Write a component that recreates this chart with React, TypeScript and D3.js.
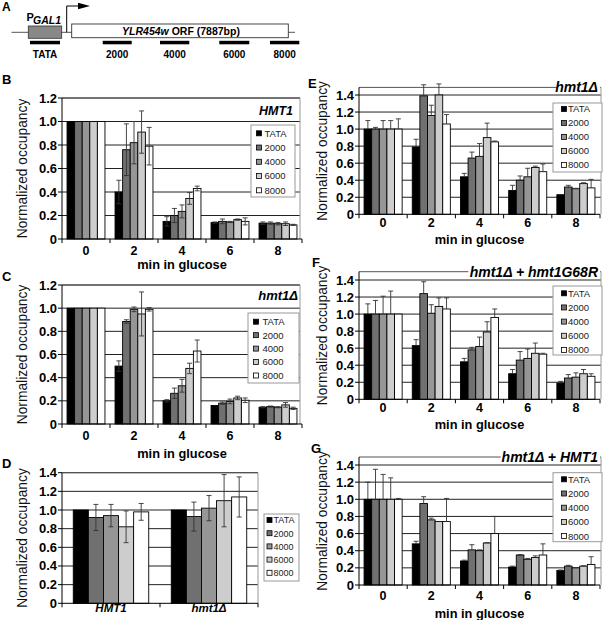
import React from 'react';
import * as d3 from 'd3';

const FONT = "'Liberation Sans', Arial, Helvetica, sans-serif";

const series = ['TATA', '2000', '4000', '6000', '8000'];
const seriesColors = ['#000000', '#707070', '#969696', '#cdcdcd', '#ffffff'];
const timeCats = ['0', '2', '4', '6', '8'];
const strainCats = ['HMT1', 'hmt1Δ'];

// Panel A probe labels
const probeLabels = ['TATA', '2000', '4000', '6000', '8000'];

// Panel B (HMT1) values per time point, per probe
const bValues = [
  [1, 1, 1, 1, 1],
  [0.40, 0.76, 0.82, 0.91, 0.79],
  [0.15, 0.20, 0.235, 0.345, 0.43],
  [0.14, 0.15, 0.145, 0.165, 0.15],
  [0.135, 0.135, 0.13, 0.13, 0.12],
];
const bErrors = [
  [0, 0, 0, 0, 0],
  [0.10, 0.22, 0.18, 0.18, 0.16],
  [0.04, 0.06, 0.055, 0.05, 0.02],
  [0.005, 0.02, 0.005, 0.005, 0.03],
  [0.01, 0.01, 0.01, 0.015, 0.005],
];

// Panel C (hmt1Δ)
const cValues = [
  [1, 1, 1, 1, 1],
  [0.50, 0.885, 0.99, 0.95, 0.99],
  [0.20, 0.265, 0.33, 0.48, 0.63],
  [0.16, 0.18, 0.195, 0.225, 0.205],
  [0.145, 0.15, 0.145, 0.165, 0.135],
];
const cErrors = [
  [0, 0, 0, 0, 0],
  [0.045, 0.015, 0.02, 0.19, 0.015],
  [0.01, 0.045, 0.055, 0.045, 0.095],
  [0, 0.01, 0.02, 0.015, 0.02],
  [0.005, 0.005, 0.005, 0.02, 0.01],
];

// Panel D (strains)
const dValues = [
  [1.0, 0.92, 0.94, 0.82, 0.98],
  [1.0, 0.93, 1.02, 1.10, 1.14],
];
const dErrors = [
  [0, 0.14, 0.12, 0.17, 0.09],
  [0, 0.155, 0.135, 0.28, 0.215],
];

// Panel E (hmt1Δ)
const eValues = [
  [1, 1, 1, 1, 1],
  [0.79, 1.39, 1.16, 1.40, 1.06],
  [0.44, 0.66, 0.68, 0.90, 0.85],
  [0.28, 0.40, 0.44, 0.55, 0.50],
  [0.23, 0.32, 0.30, 0.36, 0.31],
];
const eErrors = [
  [0.10, 0.02, 0.10, 0.10, 0.12],
  [0.09, 0.13, 0.12, 0.13, 0.11],
  [0.04, 0.07, 0.15, 0.17, 0.01],
  [0.06, 0.05, 0.10, 0.015, 0.09],
  [0, 0.02, 0.005, 0.01, 0.10],
];

// Panel F (hmt1Δ + hmt1G68R)
const fValues = [
  [1, 1, 1, 1, 1],
  [0.63, 1.24, 1.01, 1.09, 1.06],
  [0.44, 0.58, 0.62, 0.79, 0.96],
  [0.30, 0.46, 0.48, 0.54, 0.53],
  [0.19, 0.25, 0.26, 0.30, 0.27],
];
const fErrors = [
  [0.12, 0.16, 0.21, 0.27, 0],
  [0.07, 0.14, 0.10, 0.10, 0.13],
  [0.04, 0.03, 0.11, 0.12, 0.10],
  [0.05, 0.10, 0.11, 0.12, 0.01],
  [0.02, 0.04, 0.05, 0.05, 0.03],
];

// Panel G (hmt1Δ + HMT1)
const gValues = [
  [1, 1, 1, 1, 1],
  [0.48, 0.95, 0.76, 0.74, 0.74],
  [0.28, 0.41, 0.40, 0.49, 0.60],
  [0.21, 0.35, 0.30, 0.32, 0.35],
  [0.17, 0.22, 0.20, 0.22, 0.24],
];
const gErrors = [
  [0.20, 0.35, 0.29, 0.25, 0.01],
  [0.03, 0.08, 0.02, 0, 0.27],
  [0.01, 0.06, 0.01, 0.005, 0.20],
  [0.01, 0.005, 0.01, 0.02, 0.13],
  [0.005, 0.01, 0, 0.005, 0.09],
];

const ticks12 = [0, 0.2, 0.4, 0.6, 0.8, 1.0, 1.2];
const ticks14 = [0, 0.2, 0.4, 0.6, 0.8, 1.0, 1.2, 1.4];

const fmt = (v: number) => (v === 0 ? '0' : v.toFixed(1));

type Legend = { x: number; y: number; w: number; h: number; item0: number; step: number; swX: number; txX: number; size: number };

type Cfg = {
  letter: string; letterX: number; letterY: number;
  left: number; right: number; borderRight: number;
  y0: number; yRefPx: number; yRefVal: number;
  ticks: number[]; topPx: number;
  title: string; titleRight: number; titleY: number; titleSize: number; titleBg: boolean;
  legend: Legend;
  catY: number; xTitleY: number | null; yTitleX: number;
  plusOnly: boolean; cats: string[]; groupFrac: number; catSize: number; catItalic: boolean;
  values: number[][]; errors: number[][];
};

function Panel({ c }: { c: Cfg }) {
  const y = d3.scaleLinear().domain([0, c.yRefVal]).range([c.y0, c.yRefPx]);
  const x0 = d3.scaleBand<string>().domain(c.cats).range([c.left, c.right]).padding(0);
  const bw = x0.bandwidth();
  const gw = bw * c.groupFrac;
  const x1 = d3.scaleBand<string>().domain(series).range([0, gw]).padding(0);
  const plotTop = c.topPx;
  const boundaries = c.cats.map((k) => x0(k) as number).concat([c.right]);
  return (
    <g>
      <text x={c.letterX} y={c.letterY} fontFamily={FONT} fontWeight="bold" fontSize={13}>{c.letter}</text>
      {c.ticks.filter((t) => t > 0).map((t) => (
        <line key={'g' + t} x1={c.left} x2={c.borderRight} y1={y(t)} y2={y(t)} stroke="#222" strokeWidth={1} />
      ))}
      <line x1={c.left} x2={c.borderRight} y1={plotTop} y2={plotTop} stroke="#555" strokeWidth={1} />
      <line x1={c.borderRight} x2={c.borderRight} y1={plotTop} y2={c.y0} stroke="#999" strokeWidth={1} />
      {c.cats.map((cat, gi) => (
        <g key={cat} transform={`translate(${(x0(cat) as number) + (bw - gw) / 2},0)`}>
          {series.map((s, si) => {
            const v = c.values[gi][si];
            return (
              <rect key={s} x={x1(s)} y={y(v)} width={x1.bandwidth()} height={c.y0 - y(v)}
                fill={seriesColors[si]} stroke="#000" strokeWidth={0.9} />
            );
          })}
          {series.map((s, si) => {
            const v = c.values[gi][si];
            const e = c.errors[gi][si];
            if (!e) return null;
            const cx = (x1(s) as number) + x1.bandwidth() / 2;
            const top = y(v + e);
            const bot = c.plusOnly ? y(v) : y(Math.max(0, v - e));
            return (
              <g key={'e' + s} stroke="#333" strokeWidth={0.9}>
                <line x1={cx} x2={cx} y1={top} y2={bot} />
                <line x1={cx - 2.5} x2={cx + 2.5} y1={top} y2={top} />
                {!c.plusOnly && <line x1={cx - 2.5} x2={cx + 2.5} y1={bot} y2={bot} />}
              </g>
            );
          })}
        </g>
      ))}
      <line x1={c.left} x2={c.left} y1={plotTop} y2={c.y0} stroke="#000" strokeWidth={1} />
      {c.ticks.map((t) => (
        <g key={'t' + t}>
          <line x1={c.left - 4} x2={c.left} y1={y(t)} y2={y(t)} stroke="#000" />
          <text x={c.left - 5} y={y(t) + 4.5} textAnchor="end" fontFamily={FONT} fontWeight="bold" fontSize={13}>{fmt(t)}</text>
        </g>
      ))}
      <line x1={c.left} x2={c.right} y1={c.y0} y2={c.y0} stroke="#000" strokeWidth={1} />
      {boundaries.map((b, i) => (
        <line key={'b' + i} x1={b} x2={b} y1={c.y0} y2={c.y0 + 4} stroke="#000" />
      ))}
      {c.cats.map((cat) => (
        <text key={'l' + cat} x={(x0(cat) as number) + bw / 2} y={c.catY} textAnchor="middle" fontFamily={FONT}
          fontWeight="bold" fontStyle={c.catItalic ? 'italic' : 'normal'} fontSize={c.catSize}>{cat}</text>
      ))}
      {c.xTitleY !== null && (
        <text x={(c.left + c.right) / 2} y={c.xTitleY} textAnchor="middle" fontFamily={FONT} fontWeight="bold" fontSize={12.8}>min in glucose</text>
      )}
      <text transform={`translate(${c.yTitleX + 5},${(plotTop + c.y0) / 2}) rotate(-90)`} textAnchor="middle"
        fontFamily={FONT} fontSize={13.8} fill="#111">Normalized occupancy</text>
      {c.title && (
        <g>
          {c.titleBg && <rect x={c.titleRight - c.title.length * 8.1} y={c.titleY - 11} width={c.title.length * 8.1 + 2} height={13} fill="#fff" />}
          <text x={c.titleRight} y={c.titleY} textAnchor="end" fontFamily={FONT} fontWeight="bold" fontStyle="italic" fontSize={c.titleSize}>{c.title}</text>
        </g>
      )}
      <rect x={c.legend.x} y={c.legend.y} width={c.legend.w} height={c.legend.h} fill="#fff" stroke="#999" strokeWidth={1} />
      {series.map((s, si) => (
        <g key={'lg' + s}>
          <rect x={c.legend.swX} y={c.legend.item0 + si * c.legend.step - 2.5} width={5} height={5} fill={seriesColors[si]} stroke="#000" strokeWidth={0.8} />
          <text x={c.legend.txX} y={c.legend.item0 + si * c.legend.step + 3.4} fontFamily={FONT} fontSize={c.legend.size} fill="#222">{s}</text>
        </g>
      ))}
    </g>
  );
}

function PanelA() {
  const bars = [[30, 60], [102.7, 131.7], [160, 189.3], [219.3, 249.3], [270, 299.3]];
  return (
    <g fontFamily={FONT}>
      <text x={2} y={11} fontWeight="bold" fontSize={12}>A</text>
      <line x1={11.5} x2={295} y1={32.3} y2={32.3} stroke="#555" strokeWidth={1} />
      <rect x={28.3} y={26} width={33.4} height={12.3} fill="#888" stroke="#333" strokeWidth={0.8} />
      <rect x={71.7} y={24} width={216.6} height={13.7} fill="#fff" stroke="#333" strokeWidth={0.9} />
      <text x={181} y={34.8} textAnchor="middle" fontWeight="bold" fontSize={10.5}>
        <tspan fontStyle="italic">YLR454w</tspan> ORF (7887bp)
      </text>
      <path d="M66.7,32.3 V6 H80" fill="none" stroke="#000" strokeWidth={1} />
      <path d="M78,2.8 L90,6 L78,9.3 Z" fill="#000" />
      <text x={26.5} y={21} fontWeight="bold" fontSize={11}>P</text>
      <text x={33} y={23.5} fontWeight="bold" fontStyle="italic" fontSize={10.5}>GAL1</text>
      {bars.map((b, i) => (
        <g key={i}>
          <rect x={b[0]} y={40.8} width={b[1] - b[0]} height={3.5} fill="#000" />
          <text x={(b[0] + b[1]) / 2} y={58} textAnchor="middle" fontWeight="bold" fontSize={10}>{probeLabels[i]}</text>
        </g>
      ))}
    </g>
  );
}

const leftCommon = { left: 62, yTitleX: 22, plusOnly: false, cats: timeCats, groupFrac: 0.79, catSize: 12.5, catItalic: false, titleBg: false };
const rightCommon = { left: 359, right: 600, borderRight: 601, yTitleX: 322, plusOnly: true, cats: timeCats, groupFrac: 0.79, catSize: 12.5, catItalic: false, titleBg: true, ticks: ticks14, yRefVal: 1.4, titleRight: 598, titleSize: 14 };

const cfgB: Cfg = {
  ...leftCommon, letter: 'B', letterX: 2, letterY: 84, right: 302, borderRight: 300,
  y0: 239, yRefPx: 98, yRefVal: 1.2, ticks: ticks12, topPx: 98,
  title: 'HMT1', titleRight: 293, titleY: 115, titleSize: 12.5,
  legend: { x: 251, y: 125, w: 44, h: 72, item0: 133.3, step: 14.25, swX: 256.5, txX: 264.5, size: 9.5 },
  catY: 254.5, xTitleY: 269, values: bValues, errors: bErrors,
};
const cfgC: Cfg = {
  ...leftCommon, letter: 'C', letterX: 2, letterY: 281, right: 302, borderRight: 300,
  y0: 424, yRefPx: 285, yRefVal: 1.2, ticks: ticks12, topPx: 285,
  title: 'hmt1Δ', titleRight: 298, titleY: 300, titleSize: 13,
  legend: { x: 248, y: 313, w: 51, h: 70, item0: 321.7, step: 13.45, swX: 253.5, txX: 262.5, size: 9.5 },
  catY: 440, xTitleY: 457.5, values: cValues, errors: cErrors,
};
const cfgD: Cfg = {
  ...leftCommon, letter: 'D', letterX: 2, letterY: 468, right: 258, borderRight: 258,
  y0: 603.3, yRefPx: 472.7, yRefVal: 1.4, ticks: ticks14, topPx: 472.7,
  title: '', titleRight: 0, titleY: 0, titleSize: 12,
  legend: { x: 264, y: 514, w: 35, h: 67, item0: 520, step: 13.2, swX: 267, txX: 273.5, size: 9 },
  catY: 611.5, xTitleY: null, cats: strainCats, groupFrac: 0.77, catSize: 11.5, catItalic: true,
  values: dValues, errors: dErrors,
};
const cfgE: Cfg = {
  ...rightCommon, letter: 'E', letterX: 308, letterY: 88,
  y0: 214.3, yRefPx: 95, topPx: 87.4,
  title: 'hmt1Δ', titleY: 92,
  legend: { x: 553, y: 103, w: 49, h: 69, item0: 109, step: 14, swX: 561.5, txX: 568, size: 9.5 },
  catY: 227, xTitleY: 244, values: eValues, errors: eErrors,
};
const cfgF: Cfg = {
  ...rightCommon, letter: 'F', letterX: 312, letterY: 267,
  y0: 399.3, yRefPx: 280, topPx: 271.7,
  title: 'hmt1Δ + hmt1G68R', titleY: 277,
  legend: { x: 553, y: 286, w: 49, h: 69, item0: 293.3, step: 14.15, swX: 561.5, txX: 568, size: 9.5 },
  catY: 411.8, xTitleY: 429, values: fValues, errors: fErrors,
};
const cfgG: Cfg = {
  ...rightCommon, letter: 'G', letterX: 311, letterY: 453,
  y0: 585, yRefPx: 465, topPx: 457,
  title: 'hmt1Δ + HMT1', titleY: 461.7,
  legend: { x: 553, y: 472.7, w: 49, h: 69, item0: 479.3, step: 14.2, swX: 561.5, txX: 568, size: 9.5 },
  catY: 600, xTitleY: 617.5, values: gValues, errors: gErrors,
};

export default function App() {
  return (
    <svg width={605} height={620} style={{ position: 'absolute', left: 0, top: 0, background: '#fff' }}>
      <rect x={0} y={0} width={605} height={620} fill="#fff" />
      <PanelA />
      <Panel c={cfgB} />
      <Panel c={cfgC} />
      <Panel c={cfgD} />
      <Panel c={cfgE} />
      <Panel c={cfgF} />
      <Panel c={cfgG} />
    </svg>
  );
}
